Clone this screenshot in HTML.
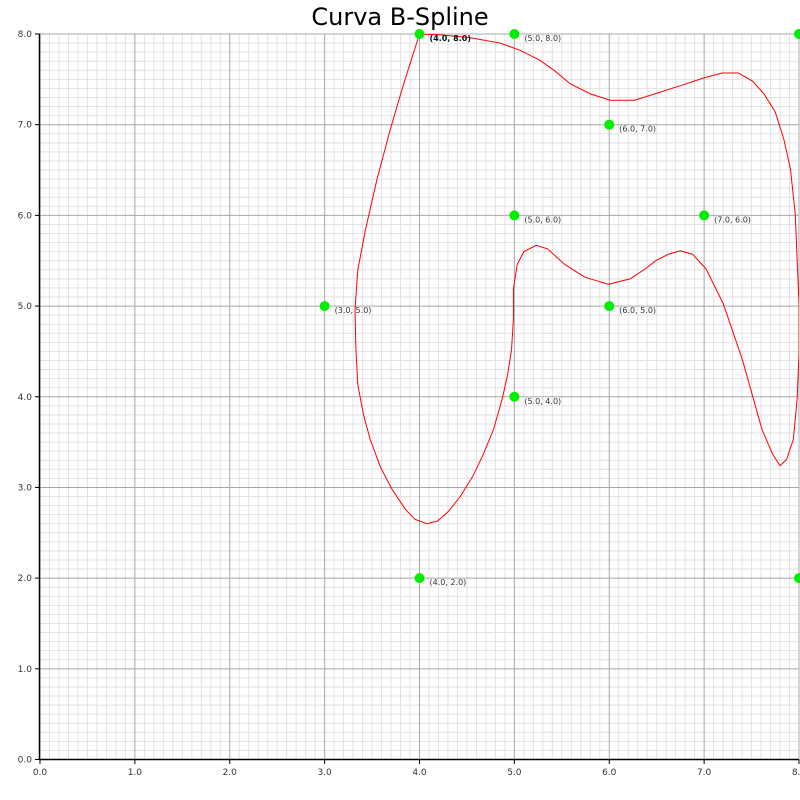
<!DOCTYPE html>
<html><head><meta charset="utf-8"><style>
html,body{margin:0;padding:0;background:#fff;}
svg{display:block;font-family:"DejaVu Sans","Liberation Sans",sans-serif;}
</style></head><body>
<svg id="chart" width="800" height="800" viewBox="0 0 800 800" xmlns="http://www.w3.org/2000/svg">
<text x="400" y="25" text-anchor="middle" font-size="24" fill="#000">Curva B-Spline</text>
<defs><clipPath id="clip"><rect x="40" y="34" width="759" height="726"/></clipPath></defs>
<g id="grid"></g>
<g id="curve" clip-path="url(#clip)"></g>
<g id="points"></g>
<g id="axes"></g>
</svg>
<script>
const xTicks=[0,1,2,3,4,5,6,7,8];
const yTicks=[0,1,2,3,4,5,6,7,8];
const ptX=[4,5,8,6,5,7,3,6,5,4,8];
const ptY=[8,8,8,7,6,6,5,5,4,2,2];
const curveX=[4.0,3.83,3.69,3.55,3.43,3.35,3.32,3.33,3.35,3.41,3.48,3.59,3.71,3.85,3.95,4.08,4.19,4.30,4.43,4.56,4.67,4.78,4.87,4.93,4.97,4.99,4.99,5.03,5.10,5.23,5.35,5.53,5.74,5.99,6.22,6.38,6.49,6.62,6.75,6.88,7.02,7.20,7.40,7.61,7.72,7.80,7.87,7.94,7.98,8.0,8.0,7.98,7.96,7.91,7.84,7.75,7.63,7.51,7.36,7.19,7.01,6.75,6.48,6.27,6.01,5.80,5.59,5.43,5.27,5.06,4.85,4.53,4.22,4.0];
const curveY=[8.0,7.44,6.94,6.39,5.84,5.40,4.96,4.52,4.13,3.80,3.53,3.22,2.98,2.76,2.65,2.60,2.63,2.73,2.90,3.12,3.36,3.64,3.97,4.25,4.52,4.86,5.19,5.46,5.60,5.67,5.63,5.46,5.32,5.24,5.30,5.41,5.50,5.57,5.61,5.57,5.41,5.03,4.42,3.64,3.37,3.24,3.31,3.53,3.97,4.47,5.02,5.52,6.02,6.51,6.84,7.14,7.34,7.48,7.57,7.57,7.52,7.43,7.34,7.27,7.27,7.34,7.45,7.59,7.71,7.82,7.90,7.96,7.99,8.0];
const NS="http://www.w3.org/2000/svg";
const X=v=>40+v*94.875, Y=v=>759.5-v*90.6875;
function mk(t,a,p){const e=document.createElementNS(NS,t);for(const k in a)e.setAttribute(k,a[k]);p.appendChild(e);return e;}
const grid=document.getElementById('grid');
for(let i=0;i<=80;i++){const v=i/10;if(i%10===0)continue;
 const l1=mk('line',{x1:X(v),x2:X(v),y1:34,y2:759.5,stroke:'#e2e2e2','stroke-width':1},grid);
 
 
 const l2=mk('line',{x1:40,x2:799,y1:Y(v),y2:Y(v),stroke:'#e2e2e2','stroke-width':1},grid);
 
 }
const axes=document.getElementById('axes');
xTicks.forEach(v=>{
 const g=mk('line',{x1:X(v),x2:X(v),y1:34,y2:759.5,stroke:'#a8a8a8','stroke-width':1},grid);
 
 
 const t=mk('line',{x1:X(v),x2:X(v),y1:759.5,y2:764,stroke:'#000'},axes);
 
 
 const tx=mk('text',{x:X(v),y:775,'text-anchor':'middle','font-size':9,fill:'#333'},axes);tx.textContent=v.toFixed(1);
 
 });
yTicks.forEach(v=>{
 const g=mk('line',{x1:40,x2:799,y1:Y(v),y2:Y(v),stroke:'#a8a8a8','stroke-width':1},grid);
 
 
 const t=mk('line',{x1:35,x2:40,y1:Y(v),y2:Y(v),stroke:'#000'},axes);
 
 
 const tx=mk('text',{x:32,y:Y(v)+3,'text-anchor':'end','font-size':9,fill:'#333'},axes);tx.textContent=v.toFixed(1);
 
 });
const ax=mk('line',{x1:39.5,x2:39.5,y1:34,y2:760,stroke:'#000','stroke-width':1.5},axes);


const ay=mk('line',{x1:39,x2:799,y1:759.5,y2:759.5,stroke:'#000','stroke-width':1.5},axes);


const cv=document.getElementById('curve');
const pl=mk('polyline',{points:curveX.map((x,i)=>X(x)+','+Y(curveY[i])).join(' '),fill:'none',stroke:'#ff0000','stroke-width':1},cv);


const pts=document.getElementById('points');
ptX.forEach((x,i)=>{
 const c=mk('circle',{cx:X(x),cy:Y(ptY[i]),r:5,fill:'#00ee00'},pts);
 
 
 const t=mk('text',{x:X(x)+10,y:Y(ptY[i])+7,'font-size':8,fill:(i===0?'#111':'#333'),'font-weight':(i===0?'bold':'normal')},pts);
 t.textContent='('+x.toFixed(1)+',  '+ptY[i].toFixed(1)+')';
 
 
 t.setAttribute('xml:space','preserve');
});
</script>
</body></html>
